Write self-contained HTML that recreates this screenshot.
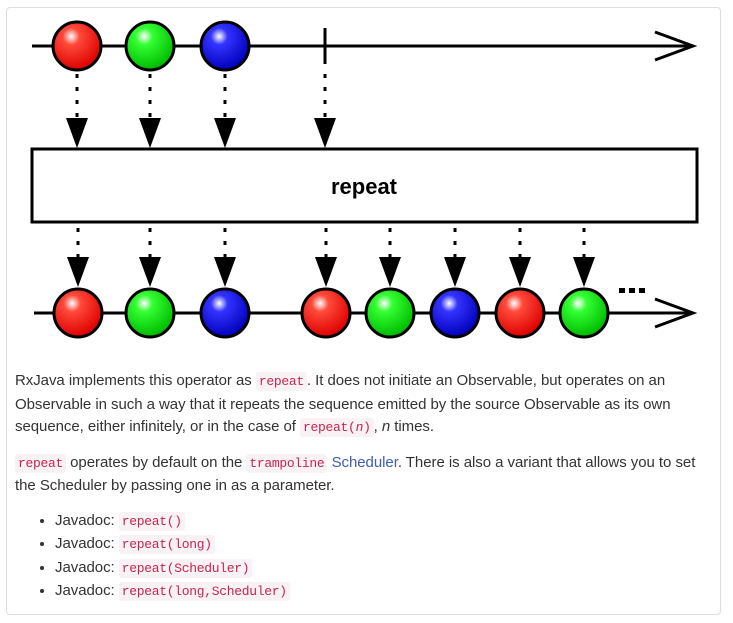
<!DOCTYPE html>
<html><head><meta charset="utf-8"><style>
body{margin:0;background:#fff;width:733px;height:623px;overflow:hidden;font-family:"Liberation Sans",sans-serif}
.box{position:absolute;left:6px;top:7px;width:715px;height:608px;border:1px solid #ddd;border-radius:4px;box-sizing:border-box}
.txt{position:absolute;left:15px;top:370px;width:705px;font-size:15px;color:#333;line-height:22.5px;letter-spacing:-0.05px;white-space:nowrap}
p{margin:0 0 12px 0}
code{font-family:"Liberation Mono",monospace;font-size:13px;color:#c7254e;background:#f9f2f4;padding:2px 3px;border-radius:3px;letter-spacing:-0.3px}
a{color:#3d5fb0;text-decoration:none}
ul{margin:0;padding-left:40px}
li{line-height:22.5px}
svg{position:absolute;left:0;top:0}
</style></head><body>
<div class="box"></div>
<svg width="733" height="360" viewBox="0 0 733 360">
<defs>
<radialGradient id="r" cx="0.38" cy="0.3" r="0.7"><stop offset="0" stop-color="#fff"/><stop offset="0.25" stop-color="#ff4a3a"/><stop offset="1" stop-color="#d00"/></radialGradient>
<radialGradient id="g" cx="0.38" cy="0.3" r="0.7"><stop offset="0" stop-color="#fff"/><stop offset="0.25" stop-color="#3f3"/><stop offset="1" stop-color="#0b0"/></radialGradient>
<radialGradient id="b" cx="0.38" cy="0.3" r="0.7"><stop offset="0" stop-color="#fff"/><stop offset="0.25" stop-color="#33f"/><stop offset="1" stop-color="#00b"/></radialGradient>
</defs>
<g stroke="#000" stroke-width="3" fill="none">
<line x1="32" y1="46" x2="692" y2="46"/>
<polyline points="655,32 693,46 655,60"/>
<line x1="325" y1="28" x2="325" y2="64"/>
<line x1="34" y1="313" x2="692" y2="313"/>
<polyline points="655,299 693,313 655,327"/>
</g>
<rect x="32" y="149" width="665" height="73" fill="#fff" stroke="#000" stroke-width="3"/>
<text x="364" y="194" font-family="Liberation Sans" font-weight="bold" font-size="22" text-anchor="middle">repeat</text>
<g stroke="#000" stroke-width="3" stroke-dasharray="4,9">
<line x1="77" y1="74" x2="77" y2="120"/><line x1="150" y1="74" x2="150" y2="120"/><line x1="225" y1="74" x2="225" y2="120"/><line x1="325" y1="74" x2="325" y2="120"/>
<line x1="78" y1="228" x2="78" y2="260"/><line x1="150" y1="228" x2="150" y2="260"/><line x1="225" y1="228" x2="225" y2="260"/><line x1="326" y1="228" x2="326" y2="260"/><line x1="390" y1="228" x2="390" y2="260"/><line x1="455" y1="228" x2="455" y2="260"/><line x1="520" y1="228" x2="520" y2="260"/><line x1="584" y1="228" x2="584" y2="260"/>
</g>
<g fill="#000">
<polygon points="66,118 88,118 77,148"/><polygon points="139,118 161,118 150,148"/><polygon points="214,118 236,118 225,148"/><polygon points="314,118 336,118 325,148"/>
<polygon points="67,257 89,257 78,287"/><polygon points="139,257 161,257 150,287"/><polygon points="214,257 236,257 225,287"/><polygon points="315,257 337,257 326,287"/><polygon points="379,257 401,257 390,287"/><polygon points="444,257 466,257 455,287"/><polygon points="509,257 531,257 520,287"/><polygon points="573,257 595,257 584,287"/>
<rect x="619" y="288" width="6" height="5"/><rect x="629" y="288" width="6" height="5"/><rect x="639" y="288" width="6" height="5"/>
</g>
<g stroke="#000" stroke-width="3">
<circle cx="77" cy="46" r="24" fill="url(#r)"/><circle cx="150" cy="46" r="24" fill="url(#g)"/><circle cx="225" cy="46" r="24" fill="url(#b)"/>
<circle cx="78" cy="313" r="24" fill="url(#r)"/><circle cx="150" cy="313" r="24" fill="url(#g)"/><circle cx="225" cy="313" r="24" fill="url(#b)"/>
<circle cx="326" cy="313" r="24" fill="url(#r)"/><circle cx="390" cy="313" r="24" fill="url(#g)"/><circle cx="455" cy="313" r="24" fill="url(#b)"/><circle cx="520" cy="313" r="24" fill="url(#r)"/><circle cx="584" cy="313" r="24" fill="url(#g)"/>
</g>
</svg>
<div class="txt">
<p>RxJava implements this operator as <code>repeat</code>. It does not initiate an Observable, but operates on an<br>Observable in such a way that it repeats the sequence emitted by the source Observable as its own<br>sequence, either infinitely, or in the case of <code>repeat(<i>n</i>)</code>, <i>n</i> times.</p>
<p><code>repeat</code> operates by default on the <code>trampoline</code> <a>Scheduler</a>. There is also a variant that allows you to set<br>the Scheduler by passing one in as a parameter.</p>
<ul>
<li>Javadoc: <code>repeat()</code></li>
<li>Javadoc: <code>repeat(long)</code></li>
<li>Javadoc: <code>repeat(Scheduler)</code></li>
<li>Javadoc: <code>repeat(long,Scheduler)</code></li>
</ul>
</div>
</body></html>
